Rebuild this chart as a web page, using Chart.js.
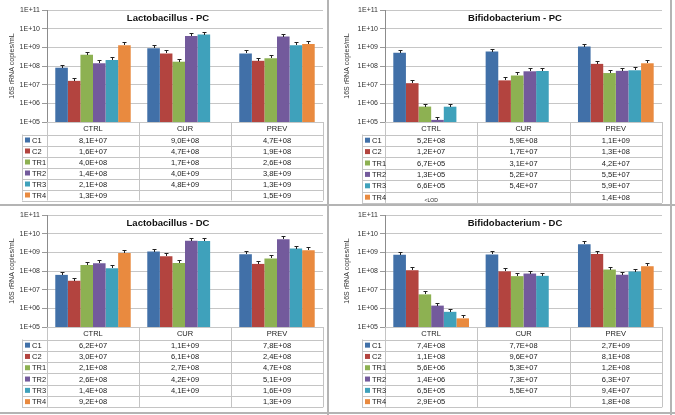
<!DOCTYPE html>
<html>
<head>
<meta charset="utf-8">
<script src="https://cdn.jsdelivr.net/npm/chart.js@4.4.0/dist/chart.umd.min.js"></script>
<style>
  body { margin: 0; background: #fff; width: 675px; height: 415px; position: relative; overflow: hidden; }
  canvas { position: absolute; }
  .frame { position: absolute; background: #b4b4b4; }
</style>
</head>
<body>
<canvas id="lactoPC" width="328" height="205" style="left:0;top:0"></canvas>
<canvas id="bifidoPC" width="338" height="205" style="left:335px;top:0"></canvas>
<canvas id="lactoDC" width="328" height="210" style="left:0;top:205px"></canvas>
<canvas id="bifidoDC" width="338" height="210" style="left:335px;top:205px"></canvas>
<div class="frame" style="left:327px;top:0;width:2px;height:415px"></div>
<div class="frame" style="left:0;top:204px;width:675px;height:2px"></div>
<div class="frame" style="left:670px;top:0;width:2px;height:415px"></div>
<div class="frame" style="left:0;top:412px;width:675px;height:2px"></div>
<script>
const categories = ['CTRL', 'CUR', 'PREV'];
const seriesNames = ['C1', 'C2', 'TR1', 'TR2', 'TR3', 'TR4'];
const yTickExponents = [5, 6, 7, 8, 9, 10, 11];

// rows follow seriesNames, columns follow categories; null = no bar
const lactoPC = [
  [8.1e7, 9.0e8, 4.7e8],
  [1.6e7, 4.7e8, 1.9e8],
  [4.0e8, 1.7e8, 2.6e8],
  [1.4e8, 4.0e9, 3.8e9],
  [2.1e8, 4.8e9, 1.3e9],
  [1.3e9, null, 1.5e9]
];
const bifidoPC = [
  [5.2e8, 5.9e8, 1.1e9],
  [1.2e7, 1.7e7, 1.3e8],
  [6.7e5, 3.1e7, 4.2e7],
  [1.3e5, 5.2e7, 5.5e7],
  [6.6e5, 5.4e7, 5.9e7],
  [null, null, 1.4e8]
];
const bifidoPCNotes = [null, null, null, null, null, ['<LOD', null, null]];
const lactoDC = [
  [6.2e7, 1.1e9, 7.8e8],
  [3.0e7, 6.1e8, 2.4e8],
  [2.1e8, 2.7e8, 4.7e8],
  [2.6e8, 4.2e9, 5.1e9],
  [1.4e8, 4.1e9, 1.6e9],
  [9.2e8, null, 1.3e9]
];
const bifidoDC = [
  [7.4e8, 7.7e8, 2.7e9],
  [1.1e8, 9.6e7, 8.1e8],
  [5.6e6, 5.3e7, 1.2e8],
  [1.4e6, 7.3e7, 6.3e7],
  [6.5e5, 5.5e7, 9.4e7],
  [2.9e5, null, 1.8e8]
];

const seriesColors = ['#4170a8', '#b3443f', '#8db152', '#735a9c', '#3fa1bb', '#e98a3f'];
const FONT = "'Liberation Sans', Arial, sans-serif";

// 8.1e7 -> "8,1E+07" like the excel table
function fmt(v) {
  if (v == null) return '';
  const [m, e] = v.toExponential(1).split('e');
  const n = parseInt(e, 10);
  return m.replace('.', ',') + 'E' + (n < 0 ? '-' : '+') + String(Math.abs(n)).padStart(2, '0');
}

// title, error caps and the data table under the plot
function extras(o) {
  return {
    id: 'extras',
    afterDatasetsDraw(chart) {
      const ctx = chart.ctx;
      ctx.save();
      ctx.strokeStyle = '#222';
      ctx.lineWidth = 1;
      chart.data.datasets.forEach((ds, i) => {
        chart.getDatasetMeta(i).data.forEach((bar, j) => {
          if (ds.data[j] == null) return;
          const x = Math.round(bar.x) + 0.5, y = Math.round(bar.y);
          ctx.beginPath();
          ctx.moveTo(x - 2, y - 2.5); ctx.lineTo(x + 2, y - 2.5);
          ctx.moveTo(x, y - 2); ctx.lineTo(x, y);
          ctx.stroke();
        });
      });
      ctx.restore();
    },
    afterDraw(chart) {
      const ctx = chart.ctx, a = chart.chartArea;
      const n = seriesNames.length;
      const top = a.bottom, hb = top + o.headH, bottom = hb + o.rowH * n;
      const cw = (a.right - a.left) / categories.length;
      ctx.save();

      ctx.fillStyle = '#111';
      ctx.font = 'bold 9.5px ' + FONT;
      ctx.textAlign = 'center';
      ctx.textBaseline = 'middle';
      ctx.fillText(o.title, o.titleX, 18.5);

      ctx.strokeStyle = '#c4c4c4';
      ctx.lineWidth = 1;
      ctx.beginPath();
      for (let r = 0; r <= n; r++) {
        const y = Math.round(hb + r * o.rowH) + 0.5;
        ctx.moveTo(o.legendLeft, y); ctx.lineTo(a.right, y);
      }
      for (let k = 0; k <= categories.length; k++) {
        const x = Math.round(a.left + k * cw) + 0.5;
        ctx.moveTo(x, top); ctx.lineTo(x, bottom);
      }
      ctx.moveTo(o.legendLeft + 0.5, hb); ctx.lineTo(o.legendLeft + 0.5, bottom);
      ctx.stroke();

      ctx.font = '7.5px ' + FONT;
      ctx.fillStyle = '#222';
      categories.forEach((c, k) => ctx.fillText(c, a.left + (k + 0.5) * cw, top + o.headH / 2 + 0.5));
      seriesNames.forEach((name, i) => {
        const yc = hb + (i + 0.5) * o.rowH;
        ctx.fillStyle = seriesColors[i];
        ctx.fillRect(o.legendLeft + 3, yc - 2.5, 5, 5);
        ctx.fillStyle = '#222';
        ctx.textAlign = 'left';
        ctx.font = '7.5px ' + FONT;
        ctx.fillText(name, o.legendLeft + 10, yc + 0.5);
        ctx.textAlign = 'center';
        o.rows[i].forEach((v, k) => {
          const note = o.notes && o.notes[i] && o.notes[i][k];
          const cx = a.left + (k + 0.5) * cw;
          if (v != null) {
            ctx.font = '7.5px ' + FONT;
            ctx.fillText(fmt(v), cx, yc + 0.5);
          } else if (note) {
            ctx.font = '5px ' + FONT;
            ctx.fillText(note, cx, yc + 3);
          }
        });
      });
      ctx.restore();
    }
  };
}

function makePanel(id, title, rows, notes, lay) {
  new Chart(document.getElementById(id), {
    type: 'bar',
    data: {
      labels: categories,
      datasets: seriesNames.map((name, i) => ({
        label: name,
        data: rows[i],
        backgroundColor: seriesColors[i],
        borderWidth: 0,
        categoryPercentage: 0.82,
        barPercentage: 1
      }))
    },
    options: {
      responsive: false,
      animation: false,
      devicePixelRatio: 1,
      layout: { padding: { left: 0, top: 10, right: lay.right, bottom: lay.bottom } },
      plugins: { legend: { display: false }, tooltip: { enabled: false } },
      scales: {
        x: { display: false },
        y: {
          type: 'logarithmic',
          min: 1e5,
          max: 1e11,
          afterFit: s => { s.width = lay.left; },
          afterBuildTicks: s => { s.ticks = yTickExponents.map(e => ({ value: Math.pow(10, e) })); },
          ticks: {
            autoSkip: false,
            padding: 2,
            color: '#333',
            font: { family: FONT, size: 7 },
            callback: v => '1E+' + String(Math.round(Math.log10(v))).padStart(2, '0')
          },
          grid: { color: '#c6c6c6', tickLength: 5, tickColor: '#9a9a9a' },
          border: { color: '#8c8c8c' },
          title: {
            display: true,
            text: '16S rRNA copies/mL',
            color: '#333',
            font: { family: FONT, size: 7 },
            padding: { top: 8, bottom: 0 }
          }
        }
      }
    },
    plugins: [extras({ title, titleX: lay.titleX, legendLeft: lay.legendLeft, headH: 12.5, rowH: lay.rowH, rows, notes })]
  });
}

makePanel('lactoPC', 'Lactobacillus - PC', lactoPC, null,
  { left: 47, right: 5, bottom: 83, titleX: 168, legendLeft: 22, rowH: 11 });
makePanel('bifidoPC', 'Bifidobacterium - PC', bifidoPC, bifidoPCNotes,
  { left: 50, right: 11, bottom: 83, titleX: 180, legendLeft: 27, rowH: 11.4 });
makePanel('lactoDC', 'Lactobacillus - DC', lactoDC, null,
  { left: 47, right: 5, bottom: 88, titleX: 168, legendLeft: 22, rowH: 11.3 });
makePanel('bifidoDC', 'Bifidobacterium - DC', bifidoDC, null,
  { left: 50, right: 11, bottom: 88, titleX: 180, legendLeft: 27, rowH: 11.3 });
</script>
</body>
</html>
